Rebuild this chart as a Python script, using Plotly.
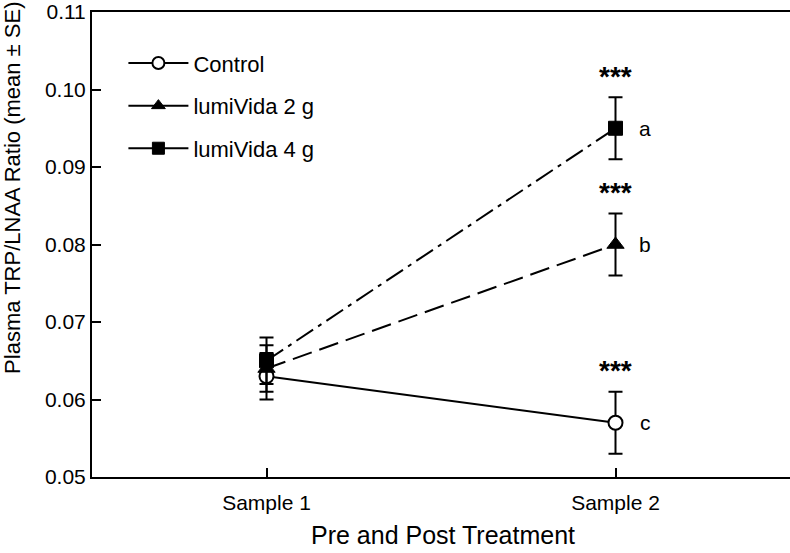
import plotly.graph_objects as go

categories = ["Sample 1", "Sample 2"]
series_names = ["Control", "lumiVida 2 g", "lumiVida 4 g"]
control = [0.063, 0.057]
lumi2 = [0.064, 0.080]
lumi4 = [0.065, 0.095]
control_se = [0.003, 0.004]
lumi2_se = [0.003, 0.004]
lumi4_se = [0.003, 0.004]
stars = ["***", "***", "***"]
letters = ["c", "b", "a"]
ytick_vals = [0.05, 0.06, 0.07, 0.08, 0.09, 0.10, 0.11]
x_title = "Pre and Post Treatment"
y_title = "Plasma TRP/LNAA Ratio (mean ± SE)"

xpos = [0, 1]
FONT = "Liberation Sans, Arial, sans-serif"

styles = [
    dict(values=control, se=control_se, dash="solid",
         marker=dict(symbol="circle", size=14, color="white", line=dict(color="black", width=2))),
    dict(values=lumi2, se=lumi2_se, dash="20px,8px",
         marker=dict(symbol="triangle-up", size=15, color="black", line=dict(color="black", width=1))),
    dict(values=lumi4, se=lumi4_se, dash="20px,6px,4px,6px",
         marker=dict(symbol="square", size=14, color="black", line=dict(color="black", width=1))),
]

fig = go.Figure()
for name, st in zip(series_names, styles):
    fig.add_trace(go.Scatter(
        x=xpos, y=st["values"], mode="lines+markers", showlegend=False,
        line=dict(color="black", width=2, dash=st["dash"]),
        marker=st["marker"],
        error_y=dict(type="data", array=st["se"], color="black", thickness=2, width=7),
    ))
# legend entries (solid line segments)
for i, (name, st) in enumerate(zip(series_names, styles)):
    fig.add_trace(go.Scatter(
        x=[None], y=[None], mode="lines+markers", name=name, legendgroup=str(i),
        line=dict(color="black", width=2),
        marker=dict(st["marker"], size=12),
    ))

# significance stars and letters at Sample 2
for st, s, l in zip(styles, stars, letters):
    v = st["values"][1]
    fig.add_annotation(x=1, y=v + st["se"][1] + 0.0027, text="<b>" + s + "</b>", showarrow=False,
                       font=dict(family=FONT, size=28, color="black"))
    fig.add_annotation(x=1.085, y=v, text=l, showarrow=False,
                       font=dict(family=FONT, size=21, color="black"))

# axis titles
fig.add_annotation(xref="paper", yref="paper", x=0.503, y=-0.1247, text=x_title,
                   showarrow=False, xanchor="center", yanchor="middle",
                   font=dict(family=FONT, size=25, color="black"))
fig.add_annotation(xref="paper", yref="paper", x=-0.113, y=0.622, text=y_title,
                   showarrow=False, xanchor="center", yanchor="middle", textangle=-90,
                   font=dict(family=FONT, size=22, color="black"))

fig.update_layout(
    width=790, height=553,
    margin=dict(l=92, r=0, t=12, b=76),
    plot_bgcolor="white", paper_bgcolor="white",
    font=dict(family=FONT, size=21, color="black"),
    legend=dict(x=0.045, y=0.935, xanchor="left", yanchor="top",
                bgcolor="rgba(0,0,0,0)", font=dict(size=22), tracegroupgap=11,
                itemwidth=60),
    xaxis=dict(range=[-0.5, 1.5], tickvals=xpos, ticktext=categories,
               ticks="inside", ticklen=9, tickwidth=2, tickcolor="black",
               showline=True, linewidth=2, linecolor="black", mirror=True,
               showgrid=False, zeroline=False, ticklabelstandoff=6,
               automargin=False, tickfont=dict(size=21)),
    yaxis=dict(range=[0.05, 0.11], tickvals=ytick_vals, tickformat=".2f",
               ticks="inside", ticklen=9, tickwidth=2, tickcolor="black",
               showline=True, linewidth=2, linecolor="black",
               showgrid=False, zeroline=False, ticklabeloverflow="allow",
               automargin=False, tickfont=dict(size=21)),
)

fig.write_html("out.html", config={"displayModeBar": False},
               post_script="document.body.style.margin='0';document.body.style.overflow='hidden';")
